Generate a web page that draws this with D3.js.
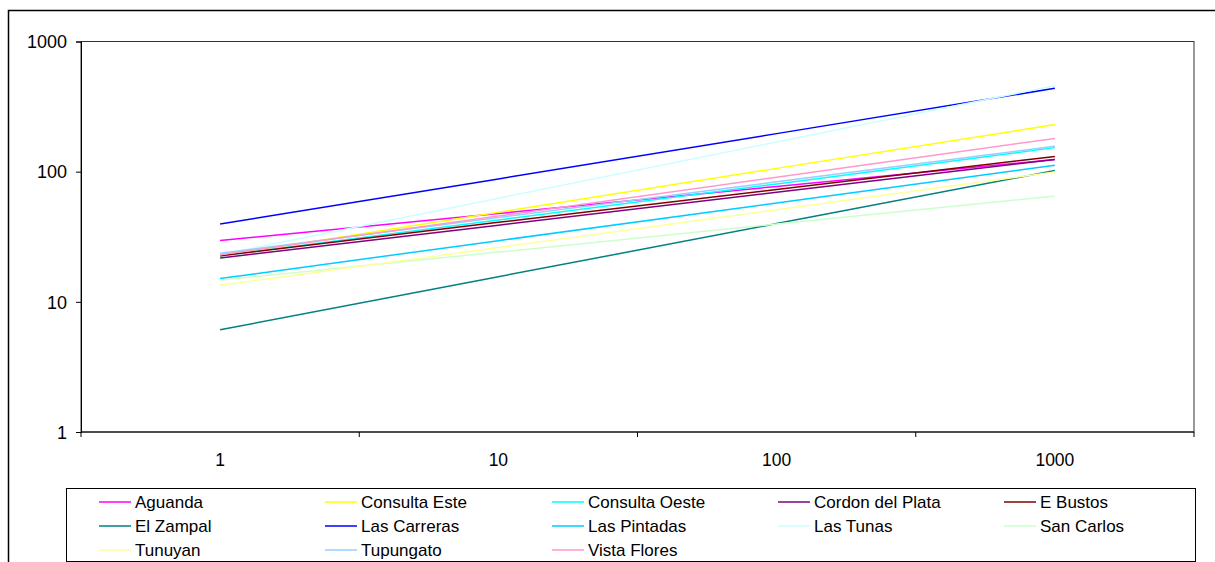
<!DOCTYPE html>
<html>
<head>
<meta charset="utf-8">
<script src="https://cdn.jsdelivr.net/npm/d3@7"></script>
<style>
  body { margin: 0; background: #fff; }
  text { font-family: "Liberation Sans", Arial, sans-serif; fill: #000; }
</style>
</head>
<body>
<div id="chart"></div>
<script>
// categories on the x axis (category axis, equally spaced)
var categories = ["1", "10", "100", "1000"];
var yTicks = [1, 10, 100, 1000];

var seriesNames = ["Aguanda", "Consulta Este", "Consulta Oeste", "Cordon del Plata", "E Bustos",
  "El Zampal", "Las Carreras", "Las Pintadas", "Las Tunas", "San Carlos",
  "Tunuyan", "Tupungato", "Vista Flores"];

// values at 1, 10, 100, 1000
var aguanda = [29.6, 47.7, 77, 124];
var consultaEste = [22.5, 48.8, 106, 230];
var consultaOeste = [22.5, 42.5, 80.5, 153];
var cordonDelPlata = [21.7, 38.8, 69.4, 124];
var eBustos = [22.6, 40.8, 73, 131];
var elZampal = [6.1, 15.6, 39.9, 102];
var lasCarreras = [39.6, 88, 196, 437];
var lasPintadas = [15.1, 29.5, 57.5, 112];
var lasTunas = [23, 62.5, 169, 458];
var sanCarlos = [14.7, 24.1, 39.6, 65];
var tunuyan = [13.4, 26.1, 51, 99.5];
var tupungato = [23.6, 44.4, 83.5, 157];
var vistaFlores = [23, 45.6, 90.6, 180];

// excel 2003 default line colours
var colors = ["#ff00ff", "#ffff00", "#00ffff", "#800080", "#800000",
  "#008080", "#0000ff", "#00ccff", "#ccffff", "#ccffcc",
  "#ffff99", "#99ccff", "#ff99cc"];

var allValues = [aguanda, consultaEste, consultaOeste, cordonDelPlata, eBustos,
  elZampal, lasCarreras, lasPintadas, lasTunas, sanCarlos,
  tunuyan, tupungato, vistaFlores];

var series = seriesNames.map(function (name, i) {
  return { name: name, color: colors[i], values: allValues[i] };
});

var W = 1215, H = 562;
var plot = { left: 81, top: 41.5, right: 1194, bottom: 432 };

var svg = d3.select("#chart").append("svg")
  .attr("width", W).attr("height", H);

// outer chart border (runs off the right and bottom edge)
svg.append("rect")
  .attr("x", 8.5).attr("y", 10.5)
  .attr("width", 1230).attr("height", 600)
  .attr("fill", "none").attr("stroke", "#000").attr("stroke-width", 1.5);

var x = d3.scaleBand().domain(categories).range([plot.left, plot.right]);
var y = d3.scaleLog().domain([1, 1000]).range([plot.bottom, plot.top]);

// plot area border
svg.append("rect")
  .attr("x", plot.left).attr("y", plot.top)
  .attr("width", plot.right - plot.left).attr("height", plot.bottom - plot.top)
  .attr("fill", "none").attr("stroke", "#333").attr("stroke-width", 1);

// y axis
var yAxis = d3.axisLeft(y).tickValues(yTicks).tickFormat(d3.format("d"))
  .tickSize(5).tickPadding(9);
var gy = svg.append("g").attr("transform", "translate(" + plot.left + ",0)").call(yAxis);
gy.selectAll("text").style("font-size", "18px").attr("dy", "0.35em");
gy.select(".domain").attr("stroke", "#000");

// x axis: ticks on category boundaries, labels in the middle
var gx = svg.append("g").attr("transform", "translate(0," + plot.bottom + ")");
gx.append("line").attr("x1", plot.left).attr("x2", plot.right)
  .attr("stroke", "#000");
var bounds = categories.map(function (c) { return x(c); }).concat([plot.right]);
gx.selectAll(".tk").data(bounds).enter().append("line")
  .attr("x1", function (d) { return d; }).attr("x2", function (d) { return d; })
  .attr("y1", 0).attr("y2", 5).attr("stroke", "#000");
gx.selectAll(".lb").data(categories).enter().append("text")
  .attr("x", function (d) { return x(d) + x.bandwidth() / 2; })
  .attr("y", 34).attr("text-anchor", "middle")
  .style("font-size", "17.5px")
  .text(function (d) { return d; });

// lines
var line = d3.line()
  .x(function (d, i) { return x(categories[i]) + x.bandwidth() / 2; })
  .y(function (d) { return y(d); });

svg.append("g").selectAll("path").data(series).enter().append("path")
  .attr("d", function (d) { return line(d.values); })
  .attr("fill", "none")
  .attr("stroke", function (d) { return d.color; })
  .attr("stroke-width", 1.5);

// legend
var leg = svg.append("g");
leg.append("rect")
  .attr("x", 66.5).attr("y", 488.5).attr("width", 1129).attr("height", 73)
  .attr("fill", "#fff").attr("stroke", "#000").attr("stroke-width", 1);

var colX = [99, 325, 552, 778, 1004], rowY = [502, 526, 550];
var items = leg.selectAll(".it").data(series).enter().append("g")
  .attr("transform", function (d, i) {
    return "translate(" + colX[i % 5] + "," + rowY[Math.floor(i / 5)] + ")";
  });
items.append("line").attr("x1", 0).attr("x2", 32)
  .attr("stroke", function (d) { return d.color; }).attr("stroke-width", 1.5);
items.append("text").attr("x", 36).attr("dy", "0.35em")
  .style("font-size", "17px")
  .text(function (d) { return d.name; });
</script>
</body>
</html>
